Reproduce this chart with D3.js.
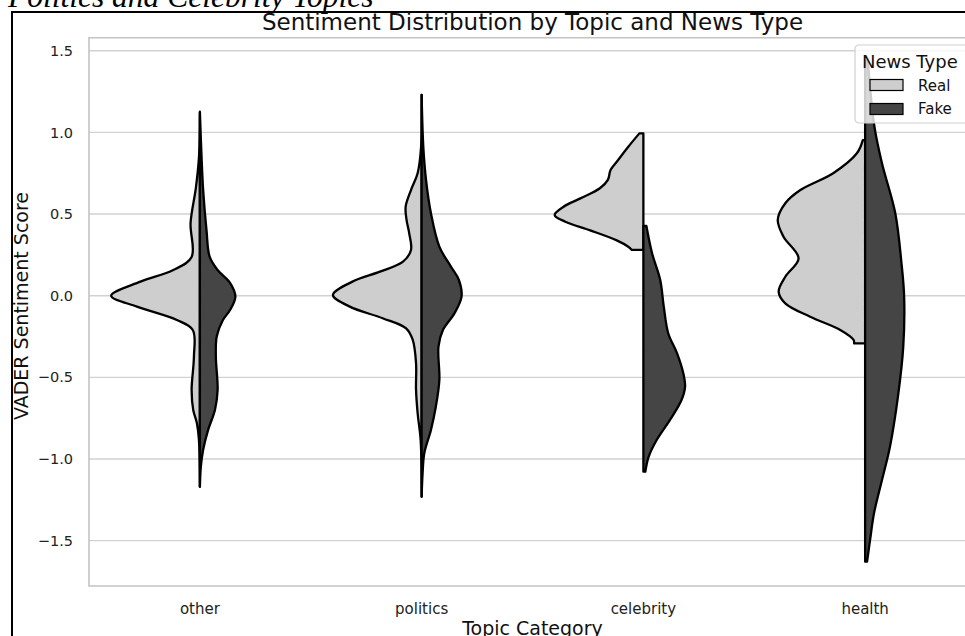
<!DOCTYPE html>
<html>
<head>
<meta charset="utf-8">
<script src="https://cdn.jsdelivr.net/npm/d3@7"></script>
<style>
  body { margin: 0; background: #fff; }
  svg { display: block; font-family: "DejaVu Sans", sans-serif; }
</style>
</head>
<body>
<div id="chart-container"></div>
<script>
// 数据
const categories = ["other", "politics", "celebrity", "health"];
const newsTypes = ["Real", "Fake"];
const yTicks = [-1.5, -1.0, -0.5, 0.0, 0.5, 1.0, 1.5];

// 密度轮廓: [情感分数, 相对密度]
const otherReal = [[1.12, 0], [0.85, 0.01], [0.66, 0.045], [0.445, 0.105], [0.237, 0.093], [0.157, 0.30], [0.086, 0.67], [0.0, 1.0], [-0.067, 0.71], [-0.149, 0.26], [-0.21, 0.08], [-0.373, 0.067], [-0.577, 0.093], [-0.70, 0.075], [-0.78, 0.034], [-0.88, 0.011], [-1.17, 0]];
const otherFake = [[1.127, 0], [0.85, 0.019], [0.647, 0.037], [0.40, 0.075], [0.239, 0.11], [0.157, 0.20], [0.078, 0.34], [-0.006, 0.40], [-0.088, 0.34], [-0.149, 0.26], [-0.25, 0.19], [-0.373, 0.18], [-0.577, 0.20], [-0.70, 0.17], [-0.822, 0.093], [-0.944, 0.037], [-1.047, 0.011], [-1.17, 0]];
const politicsReal = [[1.23, 0], [0.912, 0.006], [0.75, 0.045], [0.647, 0.12], [0.545, 0.18], [0.464, 0.17], [0.382, 0.14], [0.28, 0.12], [0.208, 0.21], [0.147, 0.47], [0.086, 0.78], [0.004, 1.0], [-0.067, 0.81], [-0.138, 0.44], [-0.20, 0.175], [-0.271, 0.10], [-0.414, 0.063], [-0.577, 0.063], [-0.72, 0.045], [-0.884, 0.011], [-1.231, 0]];
const politicsFake = [[1.23, 0], [0.912, 0.019], [0.708, 0.05], [0.505, 0.105], [0.30, 0.20], [0.178, 0.33], [0.096, 0.42], [-0.006, 0.45], [-0.108, 0.37], [-0.21, 0.24], [-0.312, 0.19], [-0.516, 0.20], [-0.68, 0.16], [-0.822, 0.105], [-0.965, 0.03], [-1.088, 0.011], [-1.231, 0]];
const celebrityReal = [[0.994, 0.045], [0.912, 0.17], [0.82, 0.30], [0.77, 0.37], [0.709, 0.40], [0.658, 0.49], [0.596, 0.71], [0.545, 0.90], [0.494, 1.0], [0.453, 0.88], [0.40, 0.60], [0.339, 0.30], [0.30, 0.17], [0.28, 0.13]];
const celebrityFake = [[0.427, 0.034], [0.26, 0.098], [0.096, 0.19], [-0.067, 0.23], [-0.23, 0.28], [-0.353, 0.38], [-0.475, 0.45], [-0.557, 0.47], [-0.639, 0.43], [-0.761, 0.30], [-0.884, 0.15], [-0.986, 0.06], [-1.078, 0.022]];
const healthReal = [[0.953, 0.026], [0.872, 0.093], [0.75, 0.36], [0.647, 0.73], [0.566, 0.90], [0.464, 0.985], [0.361, 0.92], [0.229, 0.75], [0.116, 0.90], [0.025, 0.975], [-0.047, 0.90], [-0.129, 0.62], [-0.21, 0.28], [-0.271, 0.13], [-0.292, 0.124]];
const healthFake = [[1.44, 0.03], [1.035, 0.105], [0.811, 0.19], [0.505, 0.34], [0.198, 0.41], [-0.006, 0.44], [-0.312, 0.43], [-0.618, 0.37], [-0.925, 0.28], [-1.129, 0.19], [-1.333, 0.10], [-1.496, 0.056], [-1.629, 0.022]];

const profiles = {
    other: { Real: otherReal, Fake: otherFake },
    politics: { Real: politicsReal, Fake: politicsFake },
    celebrity: { Real: celebrityReal, Fake: celebrityFake },
    health: { Real: healthReal, Fake: healthFake }
};

// 图表尺寸
const width = 965;
const height = 636;
const plot = { left: 89, right: 976, top: 37.7, bottom: 586 };
const colors = { Real: "#cecece", Fake: "#454545" };

const svg = d3.select("#chart-container")
    .append("svg")
    .attr("width", width)
    .attr("height", height);

// 比例尺
const xScale = d3.scaleBand()
    .domain(categories)
    .range([plot.left, plot.right]);

const yScale = d3.scaleLinear()
    .domain([-1.778, 1.58])
    .range([plot.bottom, plot.top]);

const wScale = d3.scaleLinear()
    .domain([0, 1])
    .range([0, xScale.bandwidth() * 0.4]);

// 外框和截断的上方说明文字
svg.append("text")
    .attr("x", 8)
    .attr("y", 7)
    .attr("font-family", "Liberation Serif, serif")
    .attr("font-style", "italic")
    .attr("font-size", 31.5)
    .text("Politics and Celebrity Topics");

svg.append("path")
    .attr("d", `M12,${height} L12,12 L${width},12`)
    .attr("fill", "none")
    .attr("stroke", "#000")
    .attr("stroke-width", 2);

// 网格线
svg.append("g")
    .selectAll("line")
    .data(yTicks)
    .join("line")
    .attr("x1", plot.left)
    .attr("x2", width)
    .attr("y1", d => yScale(d))
    .attr("y2", d => yScale(d))
    .attr("stroke", "#d2d2d2")
    .attr("stroke-width", 1.4);

// 坐标轴边框
svg.append("path")
    .attr("d", `M${width},${plot.top} L${plot.left},${plot.top} L${plot.left},${plot.bottom} L${width},${plot.bottom}`)
    .attr("fill", "none")
    .attr("stroke", "#c4c4c4")
    .attr("stroke-width", 1.6);

// Y轴
const yAxis = svg.append("g")
    .attr("transform", `translate(${plot.left},0)`)
    .call(d3.axisLeft(yScale).tickValues(yTicks).tickSize(0).tickPadding(16)
        .tickFormat(d => d3.format(".1f")(d).replace("-", "\u2212")));
yAxis.select(".domain").remove();
yAxis.selectAll("text")
    .attr("font-family", "DejaVu Sans")
    .attr("font-size", 14.5)
    .attr("fill", "#222");

// X轴
const xAxis = svg.append("g")
    .attr("transform", `translate(0,${plot.bottom})`)
    .call(d3.axisBottom(xScale).tickSize(0).tickPadding(17));
xAxis.select(".domain").remove();
xAxis.selectAll("text")
    .attr("font-family", "DejaVu Sans")
    .attr("font-size", 15)
    .attr("fill", "#222");

// 小提琴图（分半）
const violins = svg.append("g");
categories.forEach(cat => {
    const cx = xScale(cat) + xScale.bandwidth() / 2;
    newsTypes.forEach(type => {
        const sign = type === "Real" ? -1 : 1;
        const area = d3.area()
            .y(d => yScale(d[0]))
            .x0(cx)
            .x1(d => cx + sign * wScale(d[1]))
            .curve(d3.curveCatmullRom);
        violins.append("path")
            .datum(profiles[cat][type])
            .attr("d", area)
            .attr("fill", colors[type])
            .attr("stroke", "#000")
            .attr("stroke-width", 2.3)
            .attr("stroke-linejoin", "round");
    });
});

// 标题和轴标签
svg.append("text")
    .attr("x", (plot.left + plot.right) / 2)
    .attr("y", 30)
    .attr("text-anchor", "middle")
    .attr("font-size", 23)
    .attr("fill", "#111")
    .text("Sentiment Distribution by Topic and News Type");

svg.append("text")
    .attr("x", (plot.left + plot.right) / 2)
    .attr("y", 635)
    .attr("text-anchor", "middle")
    .attr("font-size", 19)
    .attr("fill", "#111")
    .text("Topic Category");

svg.append("text")
    .attr("transform", "translate(28,306) rotate(-90)")
    .attr("text-anchor", "middle")
    .attr("font-size", 19)
    .attr("fill", "#111")
    .text("VADER Sentiment Score");

// 图例
const legend = svg.append("g").attr("transform", "translate(855,45)");
legend.append("rect")
    .attr("width", 130)
    .attr("height", 78)
    .attr("rx", 4)
    .attr("fill", "#fff")
    .attr("fill-opacity", 0.8)
    .attr("stroke", "#d0d0d0")
    .attr("stroke-width", 1.2);
legend.append("text")
    .attr("x", 7)
    .attr("y", 23)
    .attr("font-size", 18)
    .attr("fill", "#111")
    .text("News Type");
newsTypes.forEach((type, i) => {
    legend.append("rect")
        .attr("x", 15)
        .attr("y", 34.5 + i * 24)
        .attr("width", 33)
        .attr("height", 11)
        .attr("fill", colors[type])
        .attr("stroke", "#000")
        .attr("stroke-width", 1.2);
    legend.append("text")
        .attr("x", 63)
        .attr("y", 46 + i * 23)
        .attr("font-size", 15)
        .attr("fill", "#111")
        .text(type);
});
</script>
</body>
</html>
